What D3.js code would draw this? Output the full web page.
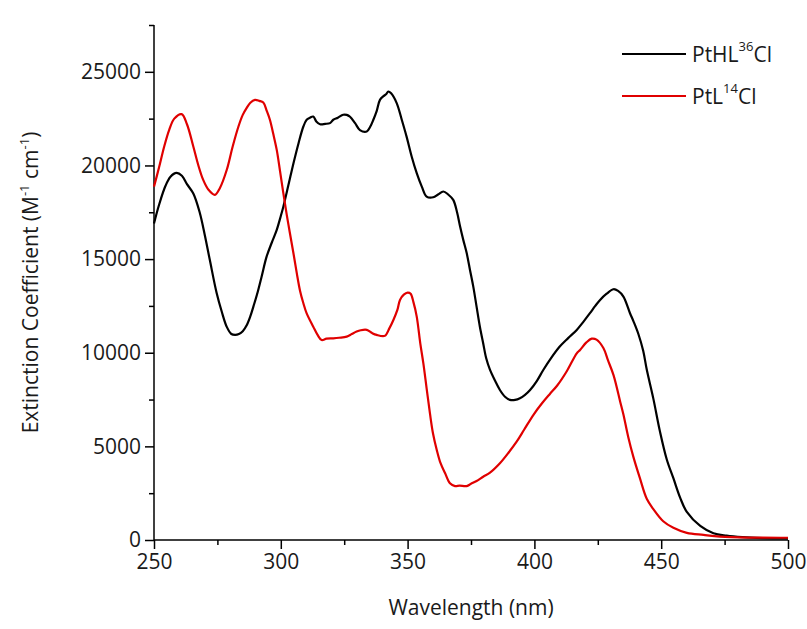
<!DOCTYPE html>
<html>
<head>
<meta charset="utf-8">
<script src="https://cdn.jsdelivr.net/npm/d3@7"></script>
<style>
  html, body { margin: 0; padding: 0; background: #ffffff; }
  svg { display: block; }
  text { font-family: "Open Sans", "Noto Sans", sans-serif; fill: #1a1a1a; }
</style>
</head>
<body>
<svg id="chart" width="807" height="629"></svg>
<script>
// ---- Data ----
const seriesNames = ["PtHL", "PtL"];
const seriesSup = ["36", "14"];
const seriesColors = ["#000000", "#e00000"];

const blackWl = [250,252,254.5,256.5,258.9,261,263,265.5,268,270,272,274.7,276.7,278.7,280.5,282,283.5,285,286.5,288,289.5,291,292.5,294.4,296.5,298.4,300,301,303,305,307,308.9,310.2,311.5,312.8,314,315.5,317.5,319.4,320.7,322.5,324.6,326,327.3,329.3,331.2,333.9,335.2,336.5,337.8,339.1,340.5,341.5,342.4,343.5,345.7,347.7,349.6,351.6,353.6,355.6,357.5,360.1,362,364.1,366,368,369.5,370.7,372,373.3,374.6,375.9,377.2,378.5,379.8,381,382.5,384.5,386.4,388.4,390.4,392.4,394.3,396.3,398.3,401,403.5,406.5,410,413.3,416.7,419.3,421.9,424,425.9,428.5,431.2,433,435.1,437.7,439,441,442.9,444.3,446.9,449.5,452.2,454.8,457.5,460.1,465.4,470.6,475.8,482,490,500];
const blackVal = [16900,17900,18900,19400,19600,19450,19000,18500,17500,16300,14960,13190,12200,11380,11000,10950,11000,11150,11450,11950,12600,13300,14100,15130,15900,16560,17300,17800,18950,20120,21190,22080,22440,22550,22610,22350,22200,22220,22260,22440,22550,22710,22700,22600,22260,21890,21810,22050,22440,22900,23500,23700,23800,23950,23850,23330,22440,21540,20480,19590,18870,18340,18300,18450,18610,18450,18160,17500,16740,16000,15320,14420,13530,12460,11390,10510,9700,9080,8500,8010,7650,7480,7480,7570,7750,8010,8500,9080,9700,10330,10780,11220,11650,12110,12500,12820,13150,13390,13300,13000,12110,11700,11000,10100,9100,7550,5800,4300,3300,2250,1500,750,360,230,150,100,80];

const redWl = [250,252,254,256,258,260.9,263,265.5,267.5,269.4,271.5,274,276,278.7,281,283.3,285,286.5,288,289.8,291.5,293.1,294.5,295.7,297,298.4,299.7,301,302.3,303.6,305,306.3,307.6,308.9,310.2,312.8,314.5,316.1,318,320.7,323,326,328,329.9,331.5,333.9,336,337.8,341,342.8,344.4,346,347,348.5,350,351.2,352.3,353.6,355,356.2,357.5,358.8,360,361.5,363,364.8,366.7,368.7,370.5,373.3,375,377.2,379.8,382.5,386.4,390,393,396,399.7,403,406.1,409,412.7,416.7,418,420.5,422.6,424.5,427.2,429,431.2,433.8,435.1,437,439,441.6,444.3,446.9,450.8,454.8,460.1,466.7,473.2,485,500];
const redVal = [18870,19900,21000,21900,22500,22740,22200,21010,20000,19230,18700,18430,18800,19770,21000,22080,22700,23060,23350,23500,23450,23360,22900,22440,21700,20830,19700,18520,17400,16380,15300,14250,13300,12640,12100,11390,10950,10680,10750,10770,10800,10860,11000,11130,11200,11220,11050,10950,10900,11300,11750,12300,12820,13100,13210,13150,12700,11930,10500,9440,8100,6770,5700,4810,4100,3560,3030,2880,2900,2880,3000,3150,3380,3600,4100,4700,5250,5900,6700,7300,7800,8250,9000,9970,10150,10550,10750,10700,10250,9600,8800,7400,6700,5500,4450,3300,2200,1650,1000,650,380,270,180,130,120];

const xMajorTicks = [250,300,350,400,450,500];
const xMinorTicks = [275,325,375,425,475];
const yMajorTicks = [0,5000,10000,15000,20000,25000];
const yMinorTicks = [2500,7500,12500,17500,22500,27500];

const xTitle = "Wavelength (nm)";

// ---- Chart ----
const svg = d3.select("#chart");
const x = d3.scaleLinear().domain([250, 500]).range([154, 788]);
const y = d3.scaleLinear().domain([0, 27500]).range([540, 25]);

const fs = 21;

// Axes
const gx = svg.append("g").attr("transform", "translate(0,540)");
gx.call(d3.axisBottom(x).tickValues(xMajorTicks).tickSize(9).tickPadding(5).tickFormat(d3.format("d")));
const gxm = svg.append("g").attr("transform", "translate(0,540)");
gxm.call(d3.axisBottom(x).tickValues(xMinorTicks).tickSize(5).tickFormat(""));

const gy = svg.append("g").attr("transform", "translate(154,0)");
gy.call(d3.axisLeft(y).tickValues(yMajorTicks).tickSize(9).tickPadding(4).tickFormat(d3.format("d")));
const gym = svg.append("g").attr("transform", "translate(154,0)");
gym.call(d3.axisLeft(y).tickValues(yMinorTicks).tickSize(5).tickFormat(""));

svg.selectAll(".domain").remove();
// Domain lines (no end caps)
svg.append("line").attr("x1", x(250)).attr("x2", x(500)).attr("y1", y(0)).attr("y2", y(0))
  .attr("stroke", "#000").attr("stroke-width", 1.5);
svg.append("line").attr("x1", x(250)).attr("x2", x(250)).attr("y1", y(0)).attr("y2", y(27500))
  .attr("stroke", "#000").attr("stroke-width", 1.5);

svg.selectAll(".tick line").attr("stroke", "#000").attr("stroke-width", 1.5);
svg.selectAll(".tick text").attr("font-size", fs).attr("font-family", "Open Sans").attr("fill", "#1a1a1a");

// Lines
const series = [
  {wl: blackWl, val: blackVal, color: seriesColors[0]},
  {wl: redWl, val: redVal, color: seriesColors[1]}
];
const line = d3.line().x(d => x(d[0])).y(d => y(d[1])).curve(d3.curveCatmullRom.alpha(0.5));
series.forEach(s => {
  const pts = s.wl.map((w, i) => [w, s.val[i]]);
  svg.append("path").datum(pts).attr("d", line)
    .attr("fill", "none").attr("stroke", s.color).attr("stroke-width", 2.2)
    .attr("stroke-linejoin", "round");
});

// X title
svg.append("text").attr("x", (x(250) + x(500)) / 2).attr("y", 615)
  .attr("text-anchor", "middle").attr("font-size", fs).text(xTitle);

// Y title with superscripts
const yt = svg.append("text").attr("transform", "translate(38," + ((y(0) + y(27500)) / 2) + ") rotate(-90)")
  .attr("text-anchor", "middle").attr("font-size", fs);
yt.append("tspan").text("Extinction Coefficient (M");
yt.append("tspan").attr("font-size", 13).attr("dy", -9).text("-1");
yt.append("tspan").attr("dy", 9).text(" cm");
yt.append("tspan").attr("font-size", 13).attr("dy", -9).text("-1");
yt.append("tspan").attr("dy", 9).text(")");

// Legend
const legY = [54, 96];
series.forEach((s, i) => {
  svg.append("line").attr("x1", 622).attr("x2", 686).attr("y1", legY[i]).attr("y2", legY[i])
    .attr("stroke", s.color).attr("stroke-width", 2.2);
  const t = svg.append("text").attr("x", 692).attr("y", legY[i] + 8).attr("font-size", fs);
  t.append("tspan").text(seriesNames[i]);
  t.append("tspan").attr("font-size", 13).attr("dy", -11).text(seriesSup[i]);
  t.append("tspan").attr("dy", 11).text("Cl");
});
</script>
</body>
</html>
